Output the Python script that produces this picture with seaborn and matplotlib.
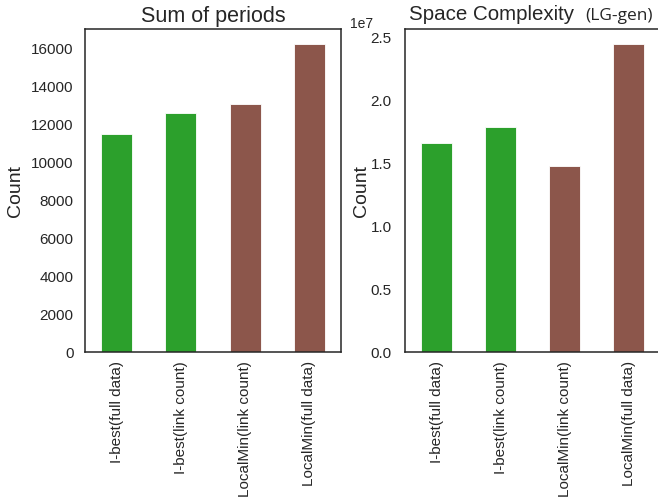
import matplotlib
matplotlib.use("Agg")
import matplotlib.pyplot as plt
import seaborn as sns
import pandas as pd

methods = ["I-best(full data)", "I-best(link count)",
           "LocalMin(link count)", "LocalMin(full data)"]
groups = ["I-best", "I-best", "LocalMin", "LocalMin"]
sum_of_periods = [11430, 12570, 13040, 16150]
space_complexity = [1.656e7, 1.783e7, 1.471e7, 2.437e7]
group_colors = {"I-best": "#2ca02c", "LocalMin": "#8c564b"}

sns.set_style("white")
plt.rcParams["font.family"] = ["Liberation Sans", "DejaVu Sans"]

df = pd.DataFrame({"method": methods, "group": groups,
                   "periods": sum_of_periods, "space": space_complexity})

fig = plt.figure(figsize=(6.58, 5.02), dpi=100)
ax1 = fig.add_axes([84.6 / 658, 149 / 502, 256.8 / 658, 323 / 502])
ax2 = fig.add_axes([404.7 / 658, 149 / 502, 256.0 / 658, 323 / 502])

for ax, col, ypad, lpad in ((ax1, "periods", 8, 5), (ax2, "space", 9.5, 0.5)):
    sns.barplot(data=df, x="method", y=col, hue="group", palette=group_colors,
                dodge=False, width=0.48, legend=False, ax=ax, saturation=1,
                edgecolor="white", linewidth=0.6)
    ax.set_xlim(-0.5, 3.5)
    ax.set_ylim(0, max(df[col]) * 1.05)
    ax.set_xlabel("")
    ax.set_ylabel("Count", fontsize=14, labelpad=lpad)
    ax.tick_params(axis="y", labelsize=11, length=0, pad=ypad)
    ax.tick_params(axis="x", labelsize=11, length=0, rotation=90, pad=6)
    for s in ax.spines.values():
        s.set_color("#262626")
        s.set_linewidth(1.1)

ax1.set_title("Sum of periods", fontsize=15.5, pad=6)

# scale factor drawn to the left of the axis top
ax2.yaxis.get_offset_text().set_visible(False)
ax2.text(-0.125, 1.006, "1e7", transform=ax2.transAxes,
         ha="right", va="baseline", fontsize=10)

ax2.text(0.341, 1.02, "Space Complexity", transform=ax2.transAxes,
         ha="center", va="bottom", fontsize=14.8)
ax2.text(0.705, 1.02, "(LG-gen)", transform=ax2.transAxes,
         ha="left", va="bottom", fontsize=12.5, family=["Open Sans", "DejaVu Sans"])

fig.savefig("out.png", dpi=100)
